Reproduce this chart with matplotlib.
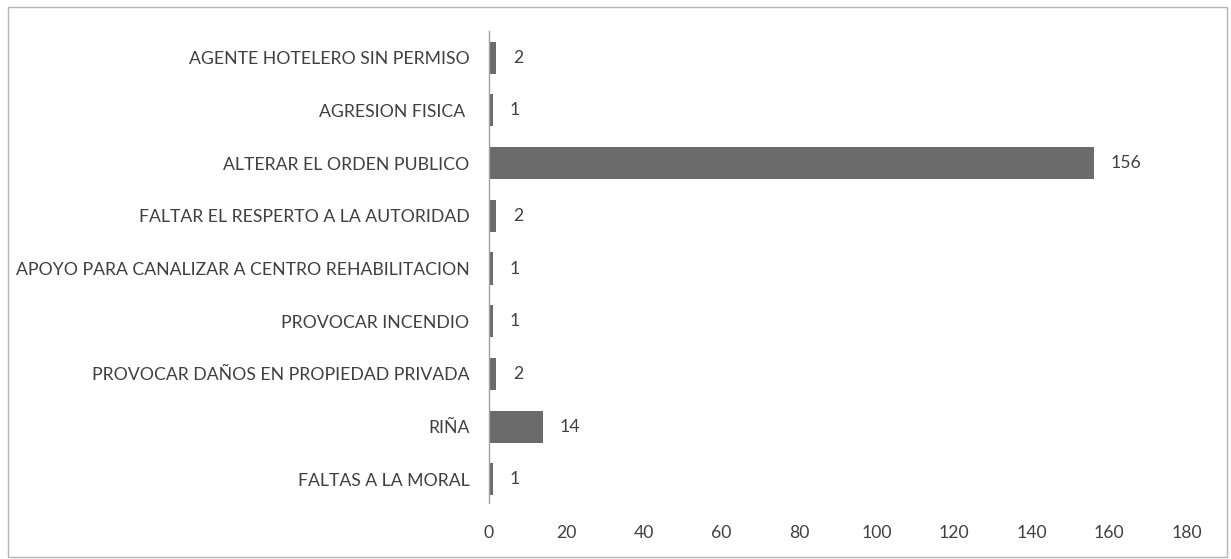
import matplotlib.pyplot as plt
from matplotlib.patches import Rectangle

# categories, top to bottom as in the chart
categorias = [
    'AGENTE HOTELERO SIN PERMISO',
    'AGRESION FISICA ',
    'ALTERAR EL ORDEN PUBLICO',
    'FALTAR EL RESPERTO A LA AUTORIDAD',
    'APOYO PARA CANALIZAR A CENTRO REHABILITACION',
    'PROVOCAR INCENDIO',
    'PROVOCAR DAÑOS EN PROPIEDAD PRIVADA',
    'RIÑA',
    'FALTAS A LA MORAL',
]
casos = [2, 1, 156, 2, 1, 1, 2, 14, 1]
ticks_x = [0, 20, 40, 60, 80, 100, 120, 140, 160, 180]

plt.rcParams['font.family'] = ['Lato', 'DejaVu Sans']

fig = plt.figure(figsize=(12.31, 5.59), dpi=100)
ax = fig.add_axes([0.397, 0.100, 0.567, 0.844])

pos = list(range(len(categorias)))
barras = ax.barh(pos, casos, height=0.61, color='#6b6b6b')
ax.bar_label(barras, padding=12, fontsize=12.7, color='#404040')

ax.set_xlim(0, 180)
ax.set_ylim(8.45, -0.5)
ax.set_xticks(ticks_x)
ax.set_yticks(pos)
ax.set_yticklabels(categorias)
ax.tick_params(axis='both', length=0, labelsize=12.7, labelcolor='#404040')
ax.tick_params(axis='y', pad=14)
ax.tick_params(axis='x', pad=15.5)

for lado in ['top', 'right', 'bottom']:
    ax.spines[lado].set_visible(False)
ax.spines['left'].set_color('#a0a0a0')
ax.spines['left'].set_linewidth(1.0)

# frame around the whole chart
fig.patches.append(Rectangle((0.0065, 0.0036), 0.990, 0.984, transform=fig.transFigure,
                             fill=False, edgecolor='#b5b5b5', linewidth=1.0))

plt.savefig('out.png', dpi=100)
